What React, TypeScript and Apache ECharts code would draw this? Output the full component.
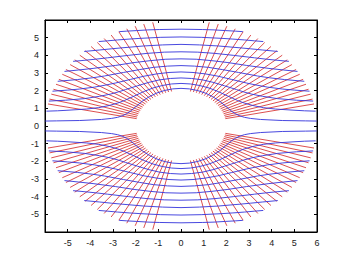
import { useEffect, useRef } from "react";
import * as echarts from "echarts";

// Axis ranges and tick labels
const xLimits = [-6, 6];
const yLimits = [-6, 6];
const xTickLabels = [-5, -4, -3, -2, -1, 0, 1, 2, 3, 4, 5, 6];
const yTickLabels = [-5, -4, -3, -2, -1, 0, 1, 2, 3, 4, 5];

// Red radial lines: inner / outer radius and the angle of each ray (degrees)
const rayInnerRadius = 2;
const rayOuterRadius = 6;
const rayAnglesQ1 = [12, 14.7, 17.5, 20.3, 23.2, 26.1, 29.2, 32.2, 35.4, 38.6, 41.9, 45.2, 48.6, 52.0, 55.6, 59.1, 62.8, 66.5, 70.3, 74.1, 78];
const rayAnglesQ2 = [168, 165.3, 162.5, 159.7, 156.8, 153.9, 150.8, 147.8, 144.6, 141.4, 138.1, 134.8, 131.4, 128.0, 124.4, 120.9, 117.2, 113.5, 109.7, 105.9, 102];
const rayAnglesQ3 = [192, 194.7, 197.5, 200.3, 203.2, 206.1, 209.2, 212.2, 215.4, 218.6, 221.9, 225.2, 228.6, 232.0, 235.6, 239.1, 242.8, 246.5, 250.3, 254.1, 258];
const rayAnglesQ4 = [348, 345.3, 342.5, 339.7, 336.8, 333.9, 330.8, 327.8, 324.6, 321.4, 318.1, 314.8, 311.4, 308.0, 304.4, 300.9, 297.2, 293.5, 289.7, 285.9, 282];

// Blue curves (upper-left quarter, read from outer rim to x = 0); the figure is mirror-symmetric
const curve0 = [[-5.99, 0.28], [-5.5, 0.29], [-4.47, 0.31], [-3.51, 0.37], [-3.06, 0.43], [-2.8, 0.49], [-2.56, 0.59], [-2.41, 0.69], [-2.25, 0.82], [-2.1, 0.98], [-1.96, 1.13], [-1.69, 1.42], [-1.4, 1.66], [-1.08, 1.86], [-0.73, 2.01], [-0.37, 2.1], [0, 2.13]];
const curve1 = [[-5.94, 0.84], [-5.45, 0.86], [-5.03, 0.89], [-4.16, 0.96], [-3.63, 1.04], [-3.17, 1.16], [-2.79, 1.3], [-2.5, 1.44], [-2.26, 1.58], [-2.04, 1.71], [-1.64, 1.95], [-1.24, 2.15], [-0.83, 2.29], [-0.42, 2.38], [0, 2.41]];
const curve2 = [[-5.83, 1.41], [-5.09, 1.46], [-4.26, 1.55], [-3.6, 1.68], [-3.13, 1.8], [-2.76, 1.93], [-2.45, 2.06], [-1.91, 2.28], [-1.42, 2.47], [-0.95, 2.61], [-0.47, 2.69], [0, 2.72]];
const curve3 = [[-5.67, 1.97], [-5.02, 2.03], [-4.49, 2.09], [-3.82, 2.2], [-3.31, 2.32], [-2.9, 2.43], [-2.22, 2.64], [-1.63, 2.82], [-1.07, 2.95], [-0.53, 3.03], [0, 3.06]];
const curve4 = [[-5.44, 2.53], [-4.56, 2.63], [-3.9, 2.73], [-3.38, 2.83], [-2.54, 3.03], [-1.84, 3.19], [-1.21, 3.32], [-0.6, 3.39], [0, 3.42]];
const curve5 = [[-5.14, 3.09], [-4.52, 3.17], [-3.88, 3.26], [-3.35, 3.35], [-2.88, 3.43], [-2.07, 3.59], [-1.35, 3.7], [-0.67, 3.78], [0, 3.8]];
const curve6 = [[-4.76, 3.66], [-4.41, 3.7], [-3.78, 3.78], [-3.24, 3.86], [-2.31, 4.0], [-1.5, 4.11], [-0.74, 4.18], [0, 4.2]];
const curve7 = [[-4.27, 4.22], [-3.61, 4.3], [-3.06, 4.37], [-2.56, 4.43], [-1.65, 4.53], [-0.81, 4.59], [0, 4.62]];
const curve8 = [[-3.63, 4.78], [-3.25, 4.82], [-2.81, 4.87], [-2.29, 4.92], [-1.81, 4.96], [-0.89, 5.02], [0, 5.04]];
const curve9 = [[-2.73, 5.34], [-2.39, 5.37], [-1.97, 5.4], [-1.46, 5.44], [-0.96, 5.46], [0, 5.48]];
const curvesQuarter = [curve0, curve1, curve2, curve3, curve4, curve5, curve6, curve7, curve8, curve9];

const RED = "#d83c3c";
const BLUE = "#3434dc";

function buildRays() {
  const all = [...rayAnglesQ1, ...rayAnglesQ2, ...rayAnglesQ3, ...rayAnglesQ4];
  return all.map((deg) => {
    const t = (deg * Math.PI) / 180;
    return {
      coords: [
        [rayInnerRadius * Math.cos(t), rayInnerRadius * Math.sin(t)],
        [rayOuterRadius * Math.cos(t), rayOuterRadius * Math.sin(t)],
      ],
    };
  });
}

function buildCurves() {
  const out: { coords: number[][] }[] = [];
  curvesQuarter.forEach((q) => {
    const right = q.slice(0, q.length - 1).reverse().map(([x, y]) => [-x, y]);
    const upper = [...q, ...right];
    out.push({ coords: upper });
    out.push({ coords: upper.map(([x, y]) => [x, -y]) });
  });
  return out;
}

export default function App() {
  const ref = useRef<HTMLDivElement>(null);
  useEffect(() => {
    if (!ref.current) return;
    document.body.style.margin = "0";
    const chart = echarts.init(ref.current, undefined, { renderer: "svg" });
    const labelStyle = {
      fontSize: 9,
      color: "#222",
      fontFamily: "Liberation Sans, Arial, sans-serif",
    };
    const axisLine = { show: true, onZero: false, lineStyle: { color: "#000", width: 1 } };
    const tick = { show: true, inside: true, length: 3, lineStyle: { color: "#000", width: 1 } };
    const option = {
      animation: false,
      grid: { left: 45, right: 33, top: 20, bottom: 30, show: true, borderColor: "#000", borderWidth: 1, backgroundColor: "#fff" },
      xAxis: [
        {
          type: "value",
          min: xLimits[0],
          max: xLimits[1],
          interval: 1,
          position: "bottom",
          axisLine,
          axisTick: tick,
          splitLine: { show: false },
          axisLabel: {
            ...labelStyle,
            margin: 6,
            formatter: (v: number) => (xTickLabels.includes(v) ? String(v) : ""),
          },
        },
        {
          type: "value",
          min: xLimits[0],
          max: xLimits[1],
          interval: 1,
          position: "top",
          axisLine,
          axisTick: tick,
          splitLine: { show: false },
          axisLabel: { show: false },
        },
      ],
      yAxis: [
        {
          type: "value",
          min: yLimits[0],
          max: yLimits[1],
          interval: 1,
          position: "left",
          axisLine,
          axisTick: tick,
          splitLine: { show: false },
          axisLabel: {
            ...labelStyle,
            margin: 6,
            formatter: (v: number) => (yTickLabels.includes(v) ? String(v) : ""),
          },
        },
        {
          type: "value",
          min: yLimits[0],
          max: yLimits[1],
          interval: 1,
          position: "right",
          axisLine,
          axisTick: tick,
          splitLine: { show: false },
          axisLabel: { show: false },
        },
      ],
      series: [
        {
          type: "lines",
          coordinateSystem: "cartesian2d",
          xAxisIndex: 0,
          yAxisIndex: 0,
          silent: true,
          data: buildRays(),
          lineStyle: { color: RED, width: 1, opacity: 0.9 },
        },
        {
          type: "lines",
          coordinateSystem: "cartesian2d",
          xAxisIndex: 0,
          yAxisIndex: 0,
          polyline: true,
          silent: true,
          data: buildCurves(),
          lineStyle: { color: BLUE, width: 1, opacity: 0.9 },
        },
      ],
    };
    chart.setOption(option as any);
    return () => chart.dispose();
  }, []);
  return <div ref={ref} style={{ width: 350, height: 262 }} />;
}
